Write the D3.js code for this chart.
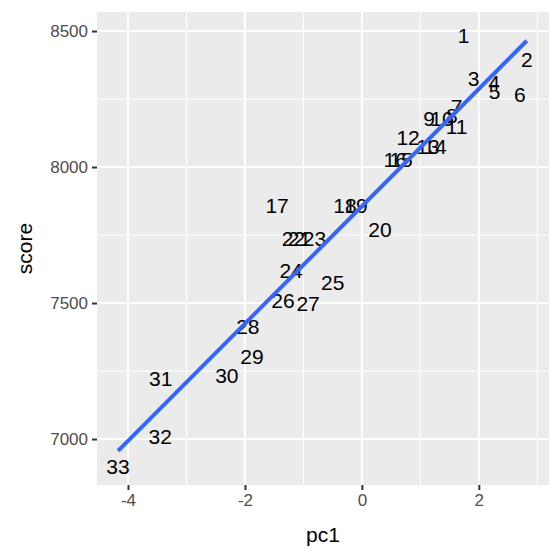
<!DOCTYPE html>
<html>
<head>
<meta charset="utf-8">
<script src="https://cdn.jsdelivr.net/npm/d3@7"></script>
<style>
body { margin: 0; background: #fff; }
svg { font-family: "Liberation Sans", Arial, sans-serif; }
</style>
</head>
<body>
<script>
var labels = ['1','2','3','4','5','6','7','8','9','10','11','12','13','14','15','16','17','18','19','20','21','22','23','24','25','26','27','28','29','30','31','32','33'];
var pc1 = [1.74, 2.82, 1.91, 2.26, 2.27, 2.70, 1.62, 1.54, 1.15, 1.37, 1.62, 0.79, 1.13, 1.25, 0.67, 0.57, -1.45, -0.29, -0.10, 0.31, -1.07, -1.17, -0.81, -1.21, -0.50, -1.35, -0.92, -1.95, -1.88, -2.31, -3.44, -3.45, -4.17];
var score = [8482, 8397, 8327, 8312, 8279, 8268, 8224, 8191, 8180, 8180, 8151, 8110, 8077, 8077, 8029, 8029, 7860, 7857, 7857, 7772, 7739, 7739, 7739, 7618, 7574, 7511, 7500, 7415, 7305, 7232, 7224, 7011, 6901];
var xTicks = [-4, -2, 0, 2];
var yTicks = [7000, 7500, 8000, 8500];
var xMinor = [-3, -1, 1, 3];
var yMinor = [7250, 7750, 8250];

var W = 560, H = 560;
var margin = {left: 97, right: 11, top: 12, bottom: 75};

var svg = d3.select("body").append("svg")
	.attr("width", W)
	.attr("height", H);

var x = d3.scaleLinear().domain([-4.53, 3.20]).range([margin.left, W - margin.right]);
var y = d3.scaleLinear().domain([6831, 8570]).range([H - margin.bottom, margin.top]);

// panel
svg.append("rect")
	.attr("x", margin.left)
	.attr("y", margin.top)
	.attr("width", W - margin.left - margin.right)
	.attr("height", H - margin.top - margin.bottom)
	.attr("fill", "#EBEBEB");

var grid = svg.append("g");
grid.selectAll(".vmin").data(xMinor).enter().append("line")
	.attr("x1", d => x(d)).attr("x2", d => x(d))
	.attr("y1", margin.top).attr("y2", H - margin.bottom)
	.attr("stroke", "#fff").attr("stroke-width", 1);
grid.selectAll(".hmin").data(yMinor).enter().append("line")
	.attr("y1", d => y(d)).attr("y2", d => y(d))
	.attr("x1", margin.left).attr("x2", W - margin.right)
	.attr("stroke", "#fff").attr("stroke-width", 1);
grid.selectAll(".vmaj").data(xTicks).enter().append("line")
	.attr("x1", d => x(d)).attr("x2", d => x(d))
	.attr("y1", margin.top).attr("y2", H - margin.bottom)
	.attr("stroke", "#fff").attr("stroke-width", 2);
grid.selectAll(".hmaj").data(yTicks).enter().append("line")
	.attr("y1", d => y(d)).attr("y2", d => y(d))
	.attr("x1", margin.left).attr("x2", W - margin.right)
	.attr("stroke", "#fff").attr("stroke-width", 2);

// axes
var fmt = d => String(d);
var xAxis = svg.append("g")
	.attr("transform", "translate(0," + (H - margin.bottom) + ")")
	.call(d3.axisBottom(x).tickValues(xTicks).tickFormat(fmt).tickSize(5).tickPadding(4));
var yAxis = svg.append("g")
	.attr("transform", "translate(" + margin.left + ",0)")
	.call(d3.axisLeft(y).tickValues(yTicks).tickFormat(fmt).tickSize(5).tickPadding(4));
[xAxis, yAxis].forEach(function(a) {
	a.attr("font-size", 17).attr("font-family", "'Liberation Sans', Arial, sans-serif");
	a.select(".domain").remove();
	a.selectAll(".tick line").attr("stroke", "#333").attr("stroke-width", 2);
	a.selectAll(".tick text").attr("fill", "#4D4D4D");
});

svg.append("text")
	.attr("x", (margin.left + W - margin.right) / 2)
	.attr("y", 542)
	.attr("text-anchor", "middle")
	.style("font-size", "21px")
	.text("pc1");
svg.append("text")
	.attr("transform", "translate(32," + ((margin.top + H - margin.bottom) / 2) + ") rotate(-90)")
	.attr("text-anchor", "middle")
	.style("font-size", "21px")
	.text("score");

// labels
var pts = labels.map((l, i) => ({label: l, x: pc1[i], y: score[i]}));
svg.append("g").selectAll("text").data(pts).enter().append("text")
	.attr("x", d => x(d.x))
	.attr("y", d => y(d.y))
	.attr("dy", "0.36em")
	.attr("text-anchor", "middle")
	.style("font-size", "21px")
	.attr("fill", "#000")
	.text(d => d.label);

// linear fit
var mx = d3.mean(pc1), my = d3.mean(score);
var sxy = d3.sum(pc1, (v, i) => (v - mx) * (score[i] - my));
var sxx = d3.sum(pc1, v => (v - mx) * (v - mx));
var slope = sxy / sxx, icpt = my - slope * mx;
var ext = d3.extent(pc1);
svg.append("line")
	.attr("x1", x(ext[0])).attr("y1", y(icpt + slope * ext[0]))
	.attr("x2", x(ext[1])).attr("y2", y(icpt + slope * ext[1]))
	.attr("stroke", "#3366FF")
	.attr("stroke-width", 4);
</script>
</body>
</html>
